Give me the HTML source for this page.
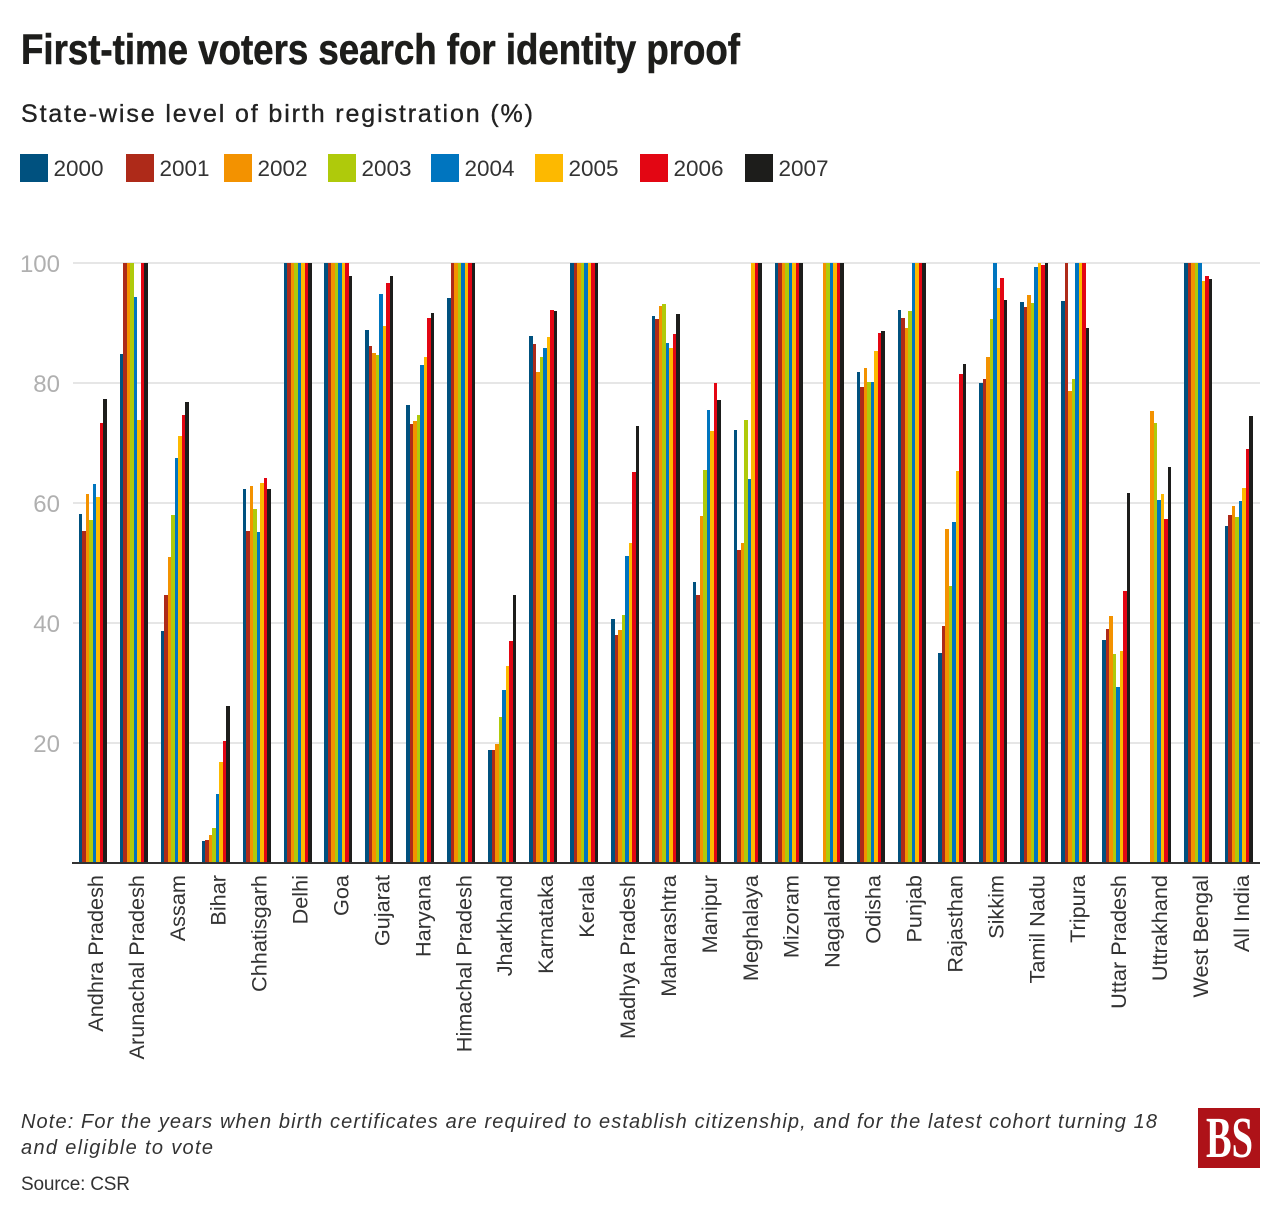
<!DOCTYPE html>
<html lang="en">
<head>
<meta charset="utf-8">
<title>First-time voters search for identity proof</title>
<style>
html,body{margin:0;padding:0;background:#fff;}
svg{display:block;font-family:"Liberation Sans",sans-serif;}
</style>
</head>
<body>
<svg id="chart" xmlns="http://www.w3.org/2000/svg" width="1280" height="1216" viewBox="0 0 1280 1216">
  <rect x="0" y="0" width="1280" height="1216" fill="#fff"/>
  <text x="21" y="64" font-size="43" font-weight="700" fill="#1d1d1b" stroke="#1d1d1b" stroke-width="0.6" textLength="719" lengthAdjust="spacingAndGlyphs">First-time voters search for identity proof</text>
  <text x="21" y="122" font-size="25" fill="#222" stroke="#222" stroke-width="0.35" textLength="512" lengthAdjust="spacing">State-wise level of birth registration (%)</text>
  <g id="legend"></g>
  <g id="grid"></g>
  <g id="yticks"></g>
  <g id="bars"></g>
  <g id="xlabels"></g>
  <line x1="72" x2="1260" y1="863" y2="863" stroke="#333" stroke-width="2" shape-rendering="crispEdges"/>
  <text x="21" y="1128" font-size="20" font-style="italic" fill="#333" textLength="1136" lengthAdjust="spacing">Note: For the years when birth certificates are required to establish citizenship, and for the latest cohort turning 18</text>
  <text x="21" y="1154" font-size="20" font-style="italic" fill="#333" textLength="192" lengthAdjust="spacing">and eligible to vote</text>
  <text x="21" y="1190" font-size="19" fill="#333" textLength="109" lengthAdjust="spacing">Source: CSR</text>
  <g>
    <rect x="1198" y="1108" width="62" height="60" fill="#ae1218"/>
    <text x="1206" y="1157" font-size="58" font-weight="700" fill="#fff" textLength="47" lengthAdjust="spacingAndGlyphs" style="font-family:'Liberation Serif',serif">BS</text>
  </g>
</svg>
<script>
var categories = ["Andhra Pradesh","Arunachal Pradesh","Assam","Bihar","Chhatisgarh","Delhi","Goa","Gujarat","Haryana","Himachal Pradesh","Jharkhand","Karnataka","Kerala","Madhya Pradesh","Maharashtra","Manipur","Meghalaya","Mizoram","Nagaland","Odisha","Punjab","Rajasthan","Sikkim","Tamil Nadu","Tripura","Uttar Pradesh","Uttrakhand","West Bengal","All India"];
var years = ["2000","2001","2002","2003","2004","2005","2006","2007"];
var yearColors = ["#00517f","#ae2a19","#f39200","#afca0b","#0075bf","#fdb900","#e30613","#1d1d1b"];
var yTicks = [20,40,60,80,100];

var values2000 = [58.2,84.8,38.7,3.7,62.3,100,100,88.8,76.3,94.2,18.9,87.8,100,40.7,91.2,46.8,72.2,100,null,81.8,92.2,35,80,93.5,93.7,37.2,null,100,56.2];
var values2001 = [55.3,100,44.7,3.8,55.3,100,100,86.2,73.2,100,18.8,86.5,100,38,90.7,44.7,52.2,100,null,79.3,90.8,39.5,80.7,92.7,100,39,null,100,58];
var values2002 = [61.5,100,51,4.7,62.8,100,100,85,73.7,100,19.8,81.8,100,38.8,92.8,57.8,53.3,100,100,82.5,89.2,55.7,84.3,94.7,78.7,41.2,75.3,100,59.5];
var values2003 = [57.2,100,58,5.8,59,100,100,84.7,74.7,100,24.4,84.3,100,41.3,93.2,65.5,73.8,100,100,80.2,92,46.2,90.7,93.3,80.7,34.8,73.3,100,57.7];
var values2004 = [63.2,94.3,67.5,11.5,55.2,100,100,94.8,83,100,28.8,85.8,100,51.2,86.7,75.5,64,100,100,80.2,100,56.8,100,99.3,100,29.3,60.5,100,60.3];
var values2005 = [61,73.8,71.2,16.8,63.3,100,100,89.5,84.3,100,32.8,87.7,100,53.3,85.8,72,100,100,100,85.3,100,65.3,95.8,100,100,35.3,61.5,97,62.5];
var values2006 = [73.3,100,74.7,20.3,64.2,100,100,96.7,90.8,100,37,92.2,100,65.2,88.2,80,100,100,100,88.3,100,81.5,97.5,99.7,100,45.3,57.3,97.8,69];
var values2007 = [77.3,100,76.8,26.2,62.3,100,97.8,97.8,91.7,100,44.7,92,100,72.8,91.5,77.2,100,100,100,88.7,100,83.2,93.8,100,89.2,61.7,66,97.3,74.5];
var allSeries = [values2000,values2001,values2002,values2003,values2004,values2005,values2006,values2007];

var legendSwatchX = function (i) { return [20,126,224,328,431,535,640,745][i]; };
var legendLabelOffset = 33.5;

var SVGNS = "http://www.w3.org/2000/svg";
function yScale(v) { return 863 - v * 6; }
function xScale(i) { return 78.9 + i * (1187 / 29); }
var barWidth = 3.5;

function make(tag, attrs, parent) {
  var el = document.createElementNS(SVGNS, tag);
  for (var k in attrs) { el.setAttribute(k, attrs[k]); }
  parent.appendChild(el);
  return el;
}

var legendGroup = document.getElementById("legend");
years.forEach(function (year, i) {
  var sx = legendSwatchX(i);
  var swatch = make("rect", {x: sx, y: 154, width: 28, height: 28, fill: yearColors[i]}, legendGroup);
  
  
  var label = make("text", {x: sx + legendLabelOffset, y: 176, "font-size": 22.5, fill: "#333"}, legendGroup);
  
  
  label.textContent = year;
});

var gridGroup = document.getElementById("grid");
var tickGroup = document.getElementById("yticks");
yTicks.forEach(function (t) {
  var line = make("line", {x1: 73, x2: 1260, y1: yScale(t), y2: yScale(t), stroke: "#e6e6e6", "stroke-width": 2, "shape-rendering": "crispEdges"}, gridGroup);
  
  
  var label = make("text", {x: 60, y: yScale(t) + 9, "font-size": 24, fill: "#b0b0b0", "text-anchor": "end"}, tickGroup);
  
  
  label.textContent = t;
});

var barGroup = document.getElementById("bars");
allSeries.forEach(function (series, s) {
  series.forEach(function (v, i) {
    if (v === null) { return; }
    var left = Math.round(xScale(i) + s * barWidth);
    var right = Math.round(xScale(i) + (s + 1) * barWidth);
    var top = Math.round(yScale(v));
    var bar = make("rect", {
      x: left,
      y: top,
      width: right - left,
      height: yScale(0) - top,
      fill: yearColors[s],
      "shape-rendering": "crispEdges"
    }, barGroup);
    
    
  });
});

var xLabelGroup = document.getElementById("xlabels");
categories.forEach(function (name, i) {
  var cx = xScale(i) + 4 * barWidth;
  var label = make("text", {
    transform: "translate(" + (cx + 10) + ",875) rotate(-90)",
    "font-size": 21.7,
    fill: "#333",
    "text-anchor": "end"
  }, xLabelGroup);
  
  
  label.textContent = name;
});
</script>
</body>
</html>
